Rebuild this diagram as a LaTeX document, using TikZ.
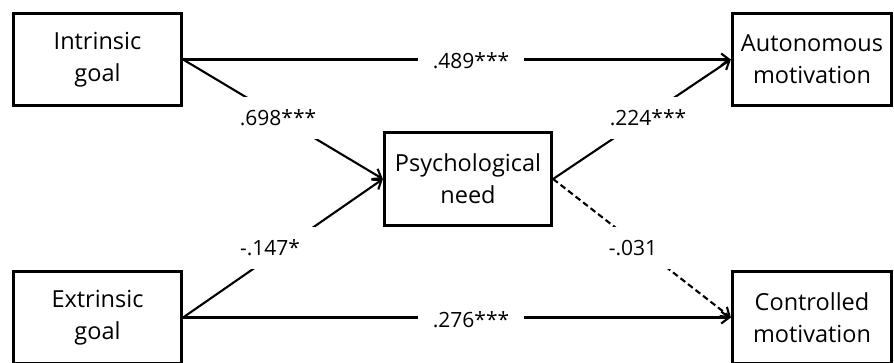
\documentclass[tikz,border=0pt]{standalone}
\usepackage{fontspec}
\setmainfont{Open Sans}
\usetikzlibrary{arrows.meta}
\begin{document}
\begin{tikzpicture}[x=1pt,y=-1pt,
  box/.style={draw, line width=3.2pt, align=center, inner sep=0pt,
    font=\fontsize{23.5}{32}\selectfont},
  leftbox/.style={box, minimum width=168pt, minimum height=92pt},
  rightbox/.style={box, minimum width=159pt, minimum height=92pt},
  link/.style={line width=2.1pt, -{Straight Barb[length=8pt,width=12pt]}},
  coef/.style={fill=white, inner xsep=15pt, inner ysep=13pt,
    font=\fontsize{21}{24}\selectfont}
]
\useasboundingbox (0,0) rectangle (894,362);

% variables
\node[leftbox]  (ig) at (97.5,59.5)  {Intrinsic\\goal};
\node[leftbox]  (eg) at (97.5,317.5) {Extrinsic\\goal};
\node[box, minimum width=167pt, minimum height=93pt] (pn) at (468,179) {Psychological\\need};
\node[rightbox] (am) at (812,59.5)  {Autonomous\\motivation};
\node[rightbox] (cm) at (812,317.5) {Controlled\\motivation};

% paths
\draw[link] (ig.east) -- (am.west);
\draw[link] (ig.east) -- (pn.west);
\draw[link] (eg.east) -- (pn.west);
\draw[link] (eg.east) -- (cm.west);
\draw[link] (pn.east) -- (am.west);
\draw[link, dash pattern=on 6pt off 3.5pt] (pn.east) -- (cm.west);

% path coefficients
\node[coef] (c1) at (471,61)  {.489***};
\node[coef] (c2) at (278,118) {.698***};
\node[coef] (c3) at (648,118) {.224***};
\node[coef] (c4) at (270,248) {-.147*};
\node[coef] (c5) at (633,248) {-.031};
\node[coef] (c6) at (471,320) {.276***};
\end{tikzpicture}
\end{document}
